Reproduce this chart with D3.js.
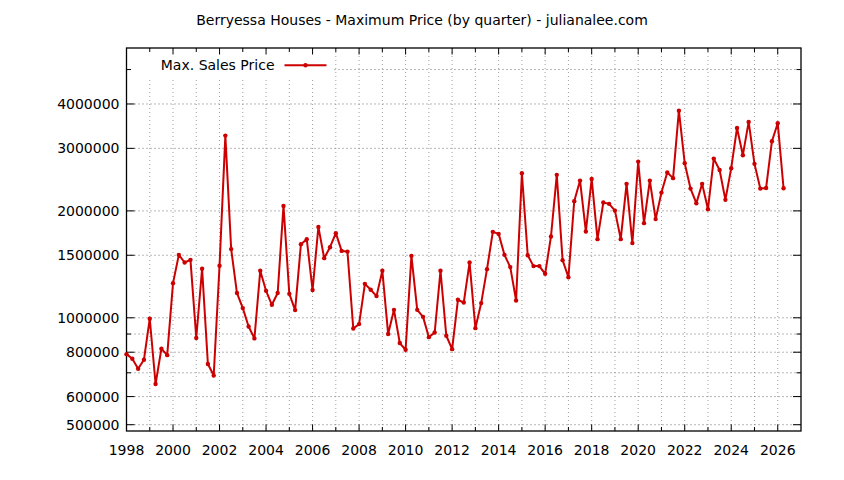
<!DOCTYPE html>
<meta charset="utf-8">
<script src="https://d3js.org/d3.v7.min.js"></script>
<style>
  body { margin: 0; background: #fff; }
  text { font-family: "DejaVu Sans", sans-serif; fill: #000; }
</style>
<div id="chart"></div>
<script>

// quarterly max price, starting 1998 Q1
var startYear = 1998;
var prices = [
  790000, 767000, 719000, 762000, 994000, 651000, 818000, 785000,
  1252000, 1504000, 1431000, 1456000, 877000, 1374000, 741000, 688000,
  1401000, 3258000, 1561000, 1174000, 1065000, 945000, 875000, 1356000,
  1191000, 1088000, 1174000, 2066000, 1168000, 1051000, 1612000, 1665000,
  1197000, 1803000, 1472000, 1580000, 1731000, 1543000, 1536000, 933000,
  960000, 1246000, 1199000, 1151000, 1356000, 900000, 1053000, 849000,
  813000, 1494000, 1053000, 1006000, 882000, 909000, 1356000, 890000,
  816000, 1124000, 1104000, 1431000, 935000, 1100000, 1371000, 1746000,
  1723000, 1504000, 1389000, 1119000, 2553000, 1500000, 1398000, 1398000,
  1330000, 1694000, 2526000, 1453000, 1301000, 2130000, 2434000, 1750000,
  2461000, 1665000, 2111000, 2093000, 2004000, 1665000, 2383000, 1623000,
  2753000, 1847000, 2434000, 1896000, 2252000, 2564000, 2473000, 3831000,
  2725000, 2311000, 2102000, 2383000, 2022000, 2807000, 2608000, 2148000,
  2638000, 3424000, 2870000, 3560000, 2713000, 2311000, 2320000, 3142000,
  3531000, 2316000
];
var quarters = prices.map(function(d, i) { return startYear + i / 4; });

var xMajor = d3.range(1998, 2027, 2);
var xMinor = d3.range(1999, 2027, 2);
var yMajor = [500000, 600000, 800000, 1000000, 1500000, 2000000, 3000000, 4000000];
var yMinor = [700000, 900000, 5000000];

var W = 844, H = 480;
var margin = {top: 48, right: 43, bottom: 49, left: 126.5};
var width = W - margin.left - margin.right,
    height = H - margin.top - margin.bottom;

var svg = d3.select("#chart").append("svg")
    .attr("width", W).attr("height", H);

var g = svg.append("g")
    .attr("transform", "translate(" + margin.left + "," + margin.top + ")");

var x = d3.scaleLinear().domain([1998, 2027]).range([0, width]);
var y = d3.scaleLog().domain([480000, 5750000]).range([height, 0]);

// grid
g.selectAll(".vgrid").data(xMajor.concat(xMinor)).enter().append("line")
    .attr("x1", function(d) { return x(d); }).attr("x2", function(d) { return x(d); })
    .attr("y1", 0).attr("y2", height)
    .attr("stroke", "#a0a0a0").attr("stroke-width", 1)
    .attr("stroke-dasharray", "1,3");
g.selectAll(".hgrid").data(yMajor.concat(yMinor)).enter().append("line")
    .attr("x1", 0).attr("x2", width)
    .attr("y1", function(d) { return y(d); }).attr("y2", function(d) { return y(d); })
    .attr("stroke", "#707070").attr("stroke-width", 1)
    .attr("stroke-dasharray", "1,3");

// key background (hides the grid under the legend)
g.append("rect")
    .attr("x", 1).attr("y", 1).attr("width", 205).attr("height", 28)
    .attr("fill", "#fff");

// ticks, all inward and mirrored
function yTicks(vals, len) {
  vals.forEach(function(v) {
    g.append("line").attr("x1", 0).attr("x2", len)
      .attr("y1", y(v)).attr("y2", y(v)).attr("stroke", "#000");
    g.append("line").attr("x1", width).attr("x2", width - len)
      .attr("y1", y(v)).attr("y2", y(v)).attr("stroke", "#000");
  });
}
function xTicks(vals, len) {
  vals.forEach(function(v) {
    g.append("line").attr("x1", x(v)).attr("x2", x(v))
      .attr("y1", height).attr("y2", height - len).attr("stroke", "#000");
    g.append("line").attr("x1", x(v)).attr("x2", x(v))
      .attr("y1", 0).attr("y2", len).attr("stroke", "#000");
  });
}
yTicks(yMajor, 8);
yTicks(yMinor, 4.5);
xTicks(xMajor, 6.5);
xTicks(xMinor, 4);

// tick labels
g.selectAll(".ylab").data(yMajor).enter().append("text")
    .attr("x", -7).attr("y", function(d) { return y(d); })
    .attr("dy", "0.36em")
    .attr("text-anchor", "end")
    .style("font-size", "14px")
    .text(function(d) { return d; });
g.selectAll(".xlab").data(xMajor).enter().append("text")
    .attr("x", function(d) { return x(d); }).attr("y", height + 24)
    .attr("text-anchor", "middle")
    .style("font-size", "14px")
    .text(function(d) { return d; });

// frame
g.append("rect").attr("width", width).attr("height", height)
    .attr("fill", "none").attr("stroke", "#000").attr("stroke-width", 1.3);

// series
var line = d3.line()
    .x(function(d, i) { return x(quarters[i]); })
    .y(function(d) { return y(d); });
g.append("path").datum(prices)
    .attr("d", line)
    .attr("fill", "none").attr("stroke", "#cc0000")
    .attr("stroke-width", 2).attr("stroke-linejoin", "round");
g.selectAll(".pt").data(prices).enter().append("circle")
    .attr("cx", function(d, i) { return x(quarters[i]); })
    .attr("cy", function(d) { return y(d); })
    .attr("r", 2.2).attr("fill", "#cc0000");

// legend
g.append("text").attr("x", 148).attr("y", 17.3).attr("dy", "0.36em")
    .attr("text-anchor", "end").style("font-size", "14px")
    .text("Max. Sales Price");
g.append("line").attr("x1", 158).attr("x2", 200).attr("y1", 17.3).attr("y2", 17.3)
    .attr("stroke", "#cc0000").attr("stroke-width", 2);
g.append("circle").attr("cx", 179).attr("cy", 17.3).attr("r", 2.2).attr("fill", "#cc0000");

// title
svg.append("text").attr("x", 422).attr("y", 25)
    .attr("text-anchor", "middle").style("font-size", "14px")
    .text("Berryessa Houses - Maximum Price (by quarter) - julianalee.com");

</script>
